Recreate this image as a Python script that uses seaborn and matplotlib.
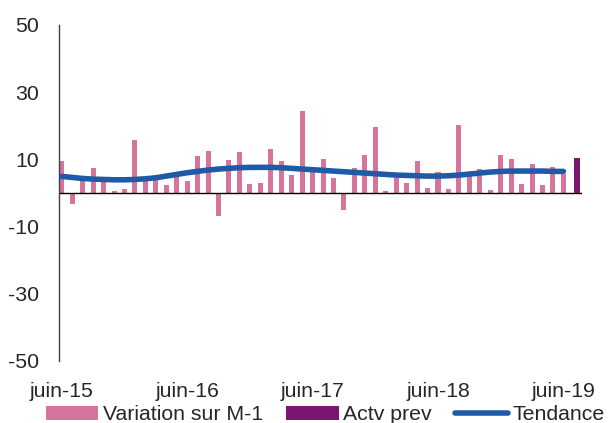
import numpy as np
import pandas as pd
import matplotlib
matplotlib.use('Agg')
import matplotlib.pyplot as plt
from matplotlib.patches import Patch
from matplotlib.lines import Line2D
import seaborn as sns

# monthly change (M-1), juin-15 .. juin-19
variation = [9.4, -3.3, 4.0, 7.5, 4.5, 0.5, 1.3, 15.7, 4.0, 4.3,
             2.3, 5.2, 3.5, 10.9, 12.5, -6.8, 9.8, 12.2, 2.6, 3.0,
             13.0, 9.4, 5.4, 24.4, 6.1, 10.1, 4.3, -5.0, 7.4, 11.4,
             19.6, 0.7, 4.5, 2.9, 9.4, 1.6, 6.3, 1.2, 20.3, 5.4,
             7.0, 1.0, 11.2, 10.0, 2.7, 8.6, 2.3, 7.7, 5.7]
# smoothed trend
tendance = [4.9, 4.6, 4.3, 4.1, 4.0, 3.9, 3.9, 4.0, 4.2, 4.5,
            5.0, 5.5, 6.0, 6.4, 6.8, 7.1, 7.3, 7.5, 7.6, 7.6,
            7.6, 7.5, 7.3, 7.1, 6.9, 6.7, 6.5, 6.3, 6.1, 5.9,
            5.7, 5.5, 5.3, 5.2, 5.1, 5.0, 5.0, 5.1, 5.3, 5.6,
            5.9, 6.2, 6.4, 6.5, 6.5, 6.5, 6.5, 6.4, 6.4]
actv_prev = [10.4]
x_labels = ['juin-15', 'juin-16', 'juin-17', 'juin-18', 'juin-19']
y_ticks = [-50, -30, -10, 10, 30, 50]

PINK = '#D5759B'
PURPLE = '#7A1570'
BLUE = '#1F5AA8'

df = pd.DataFrame({'pos': np.arange(len(variation)), 'variation': variation,
                   'tendance': tendance})

sns.set_style('white')
plt.rcParams['font.family'] = ['Liberation Sans', 'DejaVu Sans']

fig = plt.figure(figsize=(6.09, 4.23), dpi=100)
ax = fig.add_axes([0.097, 0.147, 0.859, 0.794])

sns.barplot(data=df, x='pos', y='variation', width=0.48,
            color=PINK, saturation=1, linewidth=0, ax=ax)
# forecast bar sits a little after the last month
ax.bar(len(variation) + 0.3, actv_prev[0], width=0.57, color=PURPLE,
       linewidth=0, zorder=2)
sns.lineplot(data=df, x='pos', y='tendance', color=BLUE, linewidth=4,
             solid_capstyle='round', ax=ax, zorder=3)

ax.axhline(0, color='black', linewidth=1, zorder=1)
ax.set_xlim(-0.26, 49.8)
ax.set_ylim(-50, 50)
ax.set_yticks(y_ticks)
ax.set_yticklabels([str(t) for t in y_ticks], fontsize=15.3)
ax.set_xticks([12 * k for k in range(len(x_labels))])
ax.set_xticklabels(x_labels, fontsize=15.3)
ax.tick_params(axis='y', length=0, pad=14.5)
ax.tick_params(axis='x', length=0, pad=15)
ax.set_xlabel('')
ax.set_ylabel('')
for side in ['top', 'right', 'bottom']:
    ax.spines[side].set_visible(False)
ax.spines['left'].set_color('#404040')
ax.spines['left'].set_linewidth(1)

handles = [Patch(facecolor=PINK, linewidth=0, label='Variation sur M-1'),
           Patch(facecolor=PURPLE, linewidth=0, label='Actv prev'),
           Line2D([0], [0], color=BLUE, linewidth=4, solid_capstyle='round', label='Tendance')]
fig.legend(handles=handles, loc='center', bbox_to_anchor=(0.534, 0.019), ncol=3,
           frameon=False, fontsize=15.3, handlelength=2.46, handleheight=0.6,
           handletextpad=0.23, columnspacing=1.1, borderaxespad=0)

fig.savefig('out.png', dpi=100)
